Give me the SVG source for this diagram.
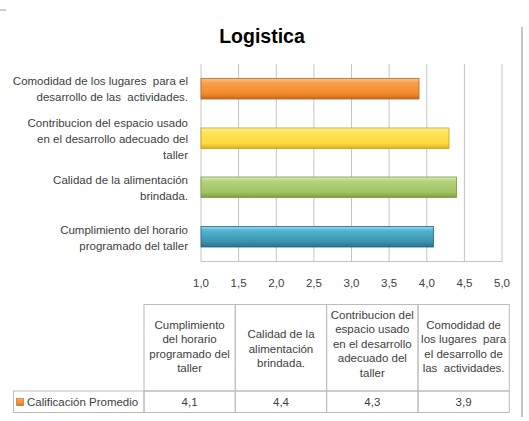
<svg xmlns="http://www.w3.org/2000/svg" width="529" height="421" viewBox="0 0 529 421">
<defs>
<style>
text{font-family:"Liberation Sans",Arial,sans-serif;fill:#404040;font-size:11.5px;white-space:pre}
.title{font-size:19.5px;font-weight:bold;fill:#000}
.cat{text-anchor:end}
.mid{text-anchor:middle}
.grid{stroke:#c4c4c4;stroke-width:1}
.cell{fill:none;stroke:#bcbcbc;stroke-width:1}
</style>
<linearGradient id="gOr" x1="0" y1="0" x2="0" y2="1">
<stop offset="0" stop-color="#fcc88f"/><stop offset="0.2" stop-color="#f9a150"/><stop offset="0.75" stop-color="#f38a2a"/><stop offset="1" stop-color="#c8661a"/>
</linearGradient>
<linearGradient id="gYe" x1="0" y1="0" x2="0" y2="1">
<stop offset="0" stop-color="#fff0a0"/><stop offset="0.2" stop-color="#ffe35a"/><stop offset="0.75" stop-color="#ffd93e"/><stop offset="1" stop-color="#d8b324"/>
</linearGradient>
<linearGradient id="gGr" x1="0" y1="0" x2="0" y2="1">
<stop offset="0" stop-color="#dcecbc"/><stop offset="0.2" stop-color="#b6d27c"/><stop offset="0.75" stop-color="#a2c361"/><stop offset="1" stop-color="#7f9d44"/>
</linearGradient>
<linearGradient id="gBl" x1="0" y1="0" x2="0" y2="1">
<stop offset="0" stop-color="#9cdcef"/><stop offset="0.2" stop-color="#52b4d0"/><stop offset="0.75" stop-color="#3a93ae"/><stop offset="1" stop-color="#2a7187"/>
</linearGradient>
</defs>
<rect width="529" height="421" fill="#fff"/>
<line x1="0" y1="10" x2="6" y2="10" stroke="#9a9a9a" stroke-width="1"/>
<line x1="522" y1="27" x2="522" y2="417" stroke="#b0b0b0" stroke-width="1.5"/>
<g id="title"><text class="title mid" x="262" y="43">Logistica</text></g>
<g id="grid">
<line class="grid" x1="201" y1="64" x2="201" y2="262"/>
<line class="grid" x1="238.6" y1="64" x2="238.6" y2="262"/>
<line class="grid" x1="276.3" y1="64" x2="276.3" y2="262"/>
<line class="grid" x1="313.9" y1="64" x2="313.9" y2="262"/>
<line class="grid" x1="351.5" y1="64" x2="351.5" y2="262"/>
<line class="grid" x1="389.1" y1="64" x2="389.1" y2="262"/>
<line class="grid" x1="426.8" y1="64" x2="426.8" y2="262"/>
<line class="grid" x1="464.4" y1="64" x2="464.4" y2="262"/>
<line class="grid" x1="502" y1="64" x2="502" y2="262"/>
<line class="grid" x1="201" y1="261.5" x2="502" y2="261.5"/>
</g>
<g id="bars">
<rect x="201" y="78.5" width="218" height="20.5" fill="url(#gOr)" stroke="#b5651d" stroke-width="0.8"/>
<rect x="201" y="128" width="248" height="20.5" fill="url(#gYe)" stroke="#c29e1e" stroke-width="0.8"/>
<rect x="201" y="177" width="255.5" height="20.5" fill="url(#gGr)" stroke="#789840" stroke-width="0.8"/>
<rect x="201" y="226.5" width="232.5" height="20.5" fill="url(#gBl)" stroke="#23657a" stroke-width="0.8"/>
</g>
<g id="category-labels">
<text class="cat" x="188" y="85">Comodidad de los lugares  para el</text>
<text class="cat" x="188" y="101">desarrollo de las  actividades.</text>
<text class="cat" x="188" y="126.5">Contribucion del espacio usado</text>
<text class="cat" x="188" y="142.5">en el desarrollo adecuado del</text>
<text class="cat" x="188" y="158.5">taller</text>
<text class="cat" x="188" y="184">Calidad de la alimentación</text>
<text class="cat" x="188" y="200">brindada.</text>
<text class="cat" x="188" y="233.5">Cumplimiento del horario</text>
<text class="cat" x="188" y="249.5">programado del taller</text>
</g>
<g id="axis-labels">
<text class="mid" x="201" y="286.5">1,0</text>
<text class="mid" x="238.6" y="286.5">1,5</text>
<text class="mid" x="276.3" y="286.5">2,0</text>
<text class="mid" x="313.9" y="286.5">2,5</text>
<text class="mid" x="351.5" y="286.5">3,0</text>
<text class="mid" x="389.1" y="286.5">3,5</text>
<text class="mid" x="426.8" y="286.5">4,0</text>
<text class="mid" x="464.4" y="286.5">4,5</text>
<text class="mid" x="502" y="286.5">5,0</text>
</g>
<g id="data-table">
<rect class="cell" x="144" y="304.5" width="91.3" height="86.5"/>
<rect class="cell" x="235.3" y="304.5" width="91.3" height="86.5"/>
<rect class="cell" x="326.6" y="304.5" width="91.4" height="86.5"/>
<rect class="cell" x="418" y="304.5" width="91.3" height="86.5"/>
<rect class="cell" x="13.5" y="391" width="130.5" height="21.5"/>
<rect class="cell" x="144" y="391" width="91.3" height="21.5"/>
<rect class="cell" x="235.3" y="391" width="91.3" height="21.5"/>
<rect class="cell" x="326.6" y="391" width="91.4" height="21.5"/>
<rect class="cell" x="418" y="391" width="91.3" height="21.5"/>
<text class="mid" x="189.6" y="328.5">Cumplimiento</text>
<text class="mid" x="189.6" y="343">del horario</text>
<text class="mid" x="189.6" y="357.5">programado del</text>
<text class="mid" x="189.6" y="372">taller</text>
<text class="mid" x="281" y="338">Calidad de la</text>
<text class="mid" x="281" y="352.5">alimentación</text>
<text class="mid" x="281" y="367">brindada.</text>
<text class="mid" x="372.3" y="318.5">Contribucion del</text>
<text class="mid" x="372.3" y="333">espacio usado</text>
<text class="mid" x="372.3" y="347.5">en el desarrollo</text>
<text class="mid" x="372.3" y="362">adecuado del</text>
<text class="mid" x="372.3" y="376.5">taller</text>
<text class="mid" x="463.6" y="328.5">Comodidad de</text>
<text class="mid" x="463.6" y="343">los lugares  para</text>
<text class="mid" x="463.6" y="357.5">el desarrollo de</text>
<text class="mid" x="463.6" y="372">las  actividades.</text>
<rect x="16.5" y="398.5" width="7" height="7" fill="url(#gOr)" stroke="#b5651d" stroke-width="0.6"/>
<text x="27" y="406">Calificación Promedio</text>
<text class="mid" x="189.6" y="406">4,1</text>
<text class="mid" x="281" y="406">4,4</text>
<text class="mid" x="372.3" y="406">4,3</text>
<text class="mid" x="463.6" y="406">3,9</text>
</g>
</svg>
